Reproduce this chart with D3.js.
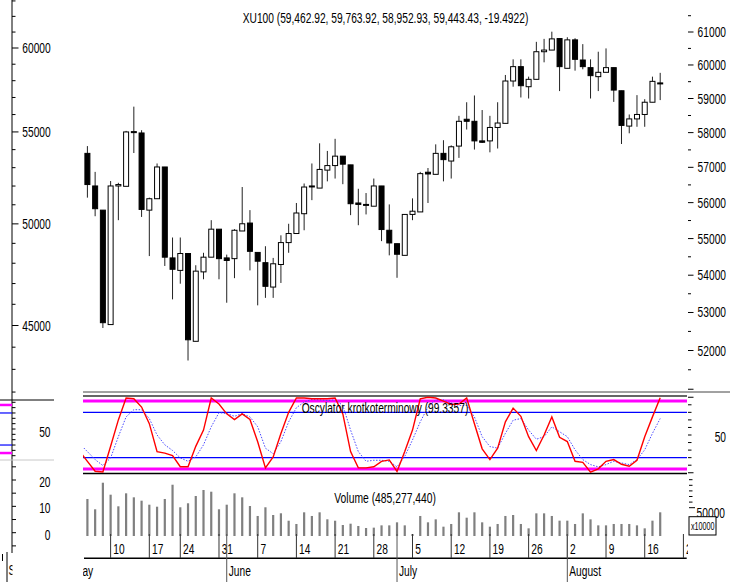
<!DOCTYPE html>
<html><head><meta charset="utf-8">
<script src="https://cdn.jsdelivr.net/npm/d3@7"></script>
<style>body{margin:0;background:#fff}svg{display:block}text{font-family:"Liberation Sans",Arial,sans-serif}</style>
</head><body><svg id="c" width="740" height="586"></svg>
<script>
// ---------- DATA (XU100, daily, 2010) ----------
const dates = ["05-05","05-06","05-07","05-10","05-11","05-12","05-13","05-14","05-17","05-18","05-20","05-21","05-24","05-25","05-26","05-27","05-28","05-31",
"06-01","06-02","06-03","06-04","06-07","06-08","06-09","06-10","06-11","06-14","06-15","06-16","06-17","06-18","06-21","06-22","06-23","06-24","06-25","06-28","06-29","06-30",
"07-01","07-02","07-05","07-06","07-07","07-08","07-09","07-12","07-13","07-14","07-15","07-16","07-19","07-20","07-21","07-22","07-23","07-26","07-27","07-28","07-29","07-30",
"08-02","08-03","08-04","08-05","08-06","08-09","08-10","08-11","08-12","08-13","08-16","08-17","08-18"];
const open  = [57400,56470,55790,52680,56470,56460,58000,57990,55790,56110,57010,54470,54130,54590,52240,54090,54490,55260,54470,54450,55210,55430,54620,54340,53680,54290,54890,55140,55690,56450,56410,56920,57050,57320,57070,55990,55940,55900,56470,55230,54860,54540,55670,55740,56860,56800,57400,57180,57610,58390,58330,57760,57760,58150,58270,59520,59950,59350,59570,60400,60450,60800,59900,60760,60150,59920,59650,59780,59920,59230,58190,58400,58530,58890,59462.92];
const high  = [57610,56870,55790,56610,56560,58050,58760,58070,56140,57110,57010,55030,55030,54590,54270,54610,55510,55260,54560,55260,56440,55790,54620,54790,54470,55090,55410,55990,56540,57110,57690,57470,57820,57320,57070,56390,56270,56680,56470,55950,54860,55680,56120,56870,56980,57660,57780,57630,58490,58890,59090,58660,58490,58890,59700,60170,60170,59650,60700,60790,61010,60810,60840,60810,60630,60170,60400,60500,59920,59230,58530,59100,58980,59650,59763.92];
const low   = [56140,55620,52590,52680,55510,56460,57410,55600,54520,56110,54250,53350,53770,51740,52240,53890,54490,53890,53260,53920,55210,54130,53190,53390,53390,53790,54610,55140,55230,56070,56410,56600,56680,56520,55650,55370,55670,55900,54930,54540,53930,54540,55510,55740,55990,56800,56600,56680,57270,58090,57510,57700,57430,57540,58270,59350,59030,59000,59570,60080,60450,59220,59900,59830,59870,59000,59220,59780,58900,57670,57980,58170,58170,58890,58952.93];
const close = [56510,55830,52730,56470,56510,58020,58030,55810,56110,57010,54490,54160,54590,52280,54110,54490,55260,54450,54400,55230,55410,54650,54380,53700,54310,54890,55140,55710,56440,56470,56940,57050,57320,57090,55970,55950,55950,56470,55250,54880,54570,55670,55760,56820,56810,57400,57220,57590,58330,58330,57760,57720,58150,58280,59520,59950,59380,59570,60400,60450,60790,59950,60760,60170,59950,59680,59780,59920,59250,58210,58400,58530,58890,59510,59443.43];
// volume, millions of shares
const volume = [758,547,1091,846,608,874,792,723,641,600,758,1050,588,670,819,942,907,547,641,874,792,614,410,588,430,465,313,246,485,410,485,342,313,225,252,205,164,171,218,218,280,218,41,410,280,341,191,246,485,375,485,280,191,246,410,430,246,157,464,464,410,314,314,246,464,341,218,218,246,246,246,218,157,314,485.28];
// short-term oscillator and its signal line; first value is May 4 (index -1)
const oscStart = -1;
const oscValues = [28.5,15,2,1,35,70,99,98,87,65,28,26,22.6,8,8,35,56.5,99,91,78,70.5,78,70.5,41,6.5,21,52,80,99,99,98,98,98,99,78,28,6.5,6.5,8,15,17,1.7,28,56.5,98,100,99,95,90.5,91,99,65,31.7,17.4,32.6,67.4,85.6,74.8,47.8,29.5,50,74,47,41.3,15.2,13.8,0.8,5.2,15.2,17.4,11.2,8.6,16.5,47.8,74,99.34];
const oscSignal = [38.4,28,17.4,9.5,19.6,47.8,74,83.5,83.5,71.8,50,37,29.5,19.6,15.2,20.9,37,60.9,79.6,78.3,74.8,78.3,74,60.9,32.6,25.2,41.3,67.4,86.2,93.5,97,96.6,95.7,96.6,89.2,56.5,28,15.2,16.5,16.5,15.2,7.8,21.7,43.5,67.4,87,96.6,96.6,92.2,89.2,89.2,73.9,47.8,34.7,32.6,52.2,69.6,71.8,56.5,44.4,47.8,60.8,54.3,47.8,30.4,17.4,10.8,7.8,10.8,15.2,13,10.8,17.4,30.4,52.2,71.8];
const oscBands = [95, 80, 20, 5];
// axis ticks / labels
const weekLabels = ["10","17","24","31","7","14","21","28","5","12","19","26","2","9","16","23"];
const weekIdx    = [3,8,12,17,22,27,32,37,42,47,52,57,62,67,72,77];
const monthLabels = ["May","June","July","August"];
const monthIdx    = [-2,18,40,62];
const rightPriceTicks = d3.range(51000, 61501, 500);
const rightPriceLabels = [52000,53000,54000,55000,56000,57000,58000,59000,60000,61000];
const leftPriceTicks = d3.range(42000, 63001, 1000);
const leftPriceLabels = [45000,50000,55000,60000];
const volLeftTicks = [-5,0,5,10,15,20,25];
const volLeftLabels = [0,10,20];
const volRightTicks = [50000,60000,70000,80000,90000,100000];
const oscTicks = d3.range(0,101,10);
const titleText = "XU100 (59,462.92, 59,763.92, 58,952.93, 59,443.43, -19.4922)";
const oscTitle = "Oscylator krotkoterminowy (99.3357)";
const volTitle = "Volume (485,277,440)";

// ---------- SCALES ----------
const xScale = d3.scaleLinear().domain([0, 74]).range([87.4, 660.2]);
const yPrice = d3.scaleLog().domain([52000, 61000]).range([350.5, 32]);
const yLeft  = d3.scaleLog().domain([45000, 60000]).range([325.5, 48]);
const yOsc   = d3.scaleLinear().domain([0, 100]).range([472.75, 397.25]);
const yOscLeft = d3.scaleLinear().domain([0, 100]).range([455.7, 402.3]);
const yVol   = d3.scaleLinear().domain([0, 1000]).range([536, 487.16]);
const yVolLeft = d3.scaleLinear().domain([0, 20]).range([532.7, 480]);
const yVolRight = d3.scaleLinear().domain([0, 100000]).range([535.7, 479.7]);

const svg = d3.select("#c");
svg.append("rect").attr("width",740).attr("height",586).attr("fill","#fff");
svg.append("defs").append("clipPath").attr("id","pc").append("rect")
  .attr("x",83).attr("y",0).attr("width",605).attr("height",586);

function label(g, str, x, y, o={}) {
  const size = o.size || 14, sx = o.sx || 0.73;
  return g.append("text")
    .attr("transform", `translate(${x},${y}) scale(${sx},1)`)
    .attr("text-anchor", o.anchor || "start")
    .attr("font-size", size).attr("fill", o.fill || "#000")
    .text(str);
}

// ---------- LEFT AXIS ----------
const gL = svg.append("g");
gL.append("line").attr("x1",12).attr("x2",12).attr("y1",0).attr("y2",553).attr("stroke","#000");
gL.selectAll("line.lt").data(leftPriceTicks).join("line")
  .attr("x1",12).attr("x2",d=>d%5000===0?18.5:15.5)
  .attr("y1",d=>yLeft(d)).attr("y2",d=>yLeft(d)).attr("stroke","#000");
leftPriceLabels.forEach(v=>label(gL, String(v), 50.7, yLeft(v)+5, {anchor:"end"}));

// left mini oscillator pane
gL.append("line").attr("x1",0).attr("x2",54).attr("y1",400).attr("y2",400).attr("stroke","#000");
gL.append("line").attr("x1",0).attr("x2",54).attr("y1",460).attr("y2",460).attr("stroke","#c8c8c8");
oscBands.forEach(b=>{
  const mag = (b===95||b===5);
  gL.append("line").attr("x1",0).attr("x2",12).attr("y1",yOscLeft(b)).attr("y2",yOscLeft(b))
    .attr("stroke", mag?"#ff00ff":"#0000ff").attr("stroke-width", mag?2.5:1.2);
});
gL.selectAll("line.ot").data(oscTicks).join("line")
  .attr("x1",12).attr("x2",15.5).attr("y1",d=>yOscLeft(d)).attr("y2",d=>yOscLeft(d)).attr("stroke","#000");
label(gL, "50", 50.5, yOscLeft(50)+8, {anchor:"end"});
// left volume axis
gL.selectAll("line.vt").data(volLeftTicks).join("line")
  .attr("x1",12).attr("x2",16).attr("y1",d=>yVolLeft(d)).attr("y2",d=>yVolLeft(d)).attr("stroke","#000");
volLeftLabels.forEach(v=>label(gL, String(v), 50.5, yVolLeft(v)+7, {anchor:"end"}));
// bottom-left remnants
gL.append("line").attr("x1",7).attr("x2",7).attr("y1",552).attr("y2",582).attr("stroke","#000");
gL.append("line").attr("x1",2.5).attr("x2",2.5).attr("y1",554).attr("y2",561).attr("stroke","#000");
svg.append("clipPath").attr("id","sc").append("rect").attr("x",0).attr("y",540).attr("width",12.5).attr("height",46);
label(svg.append("g").attr("clip-path","url(#sc)"), "S", 8.5, 575);

// ---------- PRICE PANE ----------
const idx = d3.range(dates.length);
const gC = svg.append("g").attr("clip-path","url(#pc)");
gC.selectAll("line.wick").data(idx).join("line")
  .attr("x1",i=>xScale(i)).attr("x2",i=>xScale(i))
  .attr("y1",i=>yPrice(high[i])).attr("y2",i=>yPrice(low[i]))
  .attr("stroke","#222").attr("stroke-width",1);
gC.selectAll("rect.body").data(idx).join("rect")
  .attr("x",i=>xScale(i)-2.5).attr("width",5)
  .attr("y",i=>yPrice(Math.max(open[i],close[i])))
  .attr("height",i=>Math.max(1, Math.abs(yPrice(open[i])-yPrice(close[i]))))
  .attr("fill",i=>close[i]<open[i]?"#000":"#fff")
  .attr("stroke","#000").attr("stroke-width",1);

// right price axis
const gR = svg.append("g");
gR.selectAll("line.rt").data(rightPriceTicks).join("line")
  .attr("x1",688).attr("x2",d=>d%1000===0?693.5:691)
  .attr("y1",d=>yPrice(d)).attr("y2",d=>yPrice(d)).attr("stroke","#000");
rightPriceLabels.forEach(v=>label(gR, String(v), 726, yPrice(v)+5, {anchor:"end"}));

// title
svg.append("text").attr("x",242.7).attr("y",23).attr("font-size",14)
  .attr("textLength",285.6).attr("lengthAdjust","spacingAndGlyphs").text(titleText);

// ---------- OSCILLATOR PANE ----------
const gO = svg.append("g");
gO.append("line").attr("x1",83).attr("x2",730).attr("y1",392).attr("y2",392).attr("stroke","#444");
gO.append("line").attr("x1",83).attr("x2",687).attr("y1",396).attr("y2",396).attr("stroke","#333").attr("stroke-width",1.3);
gO.append("line").attr("x1",83).attr("x2",687).attr("y1",473.5).attr("y2",473.5).attr("stroke","#000").attr("stroke-width",1.5);
oscBands.forEach(b=>{
  const mag = (b===95||b===5);
  gO.append("line").attr("x1",83).attr("x2",687).attr("y1",yOsc(b)).attr("y2",yOsc(b))
    .attr("stroke", mag?"#ff00ff":"#0000ff").attr("stroke-width", mag?3:1.4);
});
const gOc = gO.append("g").attr("clip-path","url(#pc)");
const oscLine = d3.line().x((d,k)=>xScale(k+oscStart)).y(d=>yOsc(d));
gOc.append("path").datum(oscSignal).attr("d",oscLine).attr("fill","none")
  .attr("stroke","#4b4bff").attr("stroke-width",1).attr("stroke-dasharray","1.5,1.5");
gOc.append("path").datum(oscValues).attr("d",oscLine).attr("fill","none")
  .attr("stroke","#ff0000").attr("stroke-width",1.4);
gO.append("text").attr("x",301.7).attr("y",413).attr("font-size",14)
  .attr("textLength",166.6).attr("lengthAdjust","spacingAndGlyphs").text(oscTitle);
gO.selectAll("line.ot").data(oscTicks).join("line")
  .attr("x1",688).attr("x2",d=>(d===0||d===100)?693.5:691.5)
  .attr("y1",d=>yOsc(d)).attr("y2",d=>yOsc(d)).attr("stroke","#000");
label(gO, "50", 726, yOsc(50)+6.5, {anchor:"end"});

// ---------- VOLUME PANE ----------
const gV = svg.append("g").attr("clip-path","url(#pc)");
gV.selectAll("rect.vol").data(idx).join("rect")
  .attr("x",i=>xScale(i)-1.1).attr("width",2.2)
  .attr("y",i=>yVol(volume[i])).attr("height",i=>yVol(0)-yVol(volume[i]))
  .attr("fill","#808080");
svg.append("text").attr("x",334.3).attr("y",503).attr("font-size",14)
  .attr("textLength",101.7).attr("lengthAdjust","spacingAndGlyphs").text(volTitle);
const gVR = svg.append("g");
gVR.selectAll("line.vr").data(volRightTicks).join("line")
  .attr("x1",689).attr("x2",d=>d===50000?695:692.5)
  .attr("y1",d=>yVolRight(d)).attr("y2",d=>yVolRight(d)).attr("stroke","#000");
label(gVR, "50000", 725, yVolRight(50000)+10, {anchor:"end"});
gVR.append("rect").attr("x",689).attr("y",516.7).attr("width",27).attr("height",18.3)
  .attr("fill","#fff").attr("stroke","#000");
label(gVR, "x10000", 691, 530, {size:10, sx:0.72});

// ---------- X AXIS ----------
const gX = svg.append("g").attr("clip-path","url(#pc)");
gX.append("line").attr("x1",84).attr("x2",686.7).attr("y1",558.3).attr("y2",558.3).attr("stroke","#000").attr("stroke-width",1.5);
weekIdx.forEach((w,k)=>{
  const x = xScale(w);
  gX.append("line").attr("x1",x).attr("x2",x).attr("y1",534).attr("y2",558).attr("stroke","#333");
  label(gX, weekLabels[k], x+2.7, 553.5, {size:15, sx:0.68});
});
monthIdx.forEach((m,k)=>{
  const x = xScale(m);
  gX.append("line").attr("x1",x).attr("x2",x).attr("y1",534).attr("y2",582).attr("stroke","#555");
  label(gX, monthLabels[k], x+2, 575.5, {size:15, sx:0.68});
});
</script></body></html>
